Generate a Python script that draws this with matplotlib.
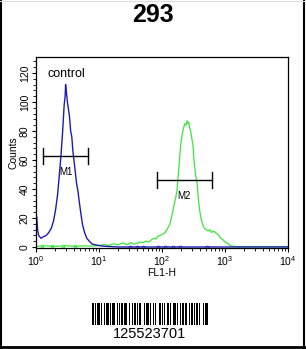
import numpy as np
import matplotlib.pyplot as plt
from matplotlib.ticker import MultipleLocator, LogLocator, NullFormatter

plt.rcParams['font.family'] = ['Liberation Sans', 'DejaVu Sans']

# ---------------- data ----------------
title = "293"
barcode_text = "125523701"

# control (blue) histogram
blue_x = [1.0, 1.02, 1.06, 1.1, 1.2, 1.3, 1.45, 1.6, 1.75, 1.9, 2.05, 2.2, 2.35, 2.5,
          2.65, 2.8, 2.9, 2.95, 3.05, 3.15, 3.25, 3.4, 3.55, 3.7, 3.85, 4.0, 4.2, 4.4,
          4.65, 4.9, 5.2, 5.5, 5.9, 6.4, 7.0, 7.8, 8.8, 10, 12, 15, 20, 10000]
blue_y = [0, 21, 12, 8, 6, 7, 8, 10, 13, 18, 26, 36, 50, 64,
          80, 98, 104, 112, 106, 100, 96, 90, 80, 76, 66, 60, 52, 44,
          38, 30, 22, 15, 10, 6, 4, 2, 1.5, 1, 0.5, 0.3, 0, 0]

# sample (green) histogram
green_x = [1.0, 1.5, 2, 3, 4, 6, 8, 10, 12, 14, 17, 20, 24, 28, 32, 36, 40, 45, 50,
           56, 62, 68, 74, 80, 86, 93, 105, 112, 120, 127, 134, 141, 149, 157, 165,
           173, 180, 187, 193, 200, 210, 220, 230, 240, 250, 258, 266, 275, 285, 295,
           310, 325, 340, 360, 380, 400, 420, 445, 470, 500, 540, 575, 610, 650, 700,
           750, 800, 860, 930, 1000, 1110, 1200, 1340, 1600, 2500, 10000]
green_y = [0.5, 0.8, 0.4, 0.9, 0.5, 0.8, 0.6, 1.0, 1.8, 1.0, 2.2, 1.5, 2.8, 1.6, 3.0, 2.0, 2.5, 3.5, 3.0,
           4.0, 3.5, 5.0, 6.0, 5.5, 7.5, 8, 9, 10, 12, 14, 16, 20, 25, 30, 34,
           39, 48, 57, 65, 72, 78, 82, 85, 84, 87, 85, 86, 82, 80, 76,
           70, 58, 50, 44, 32, 24, 19, 15, 13, 12, 11, 12, 10, 11, 10,
           9, 8, 6, 5, 3.5, 2.5, 1, 0.5, 0.3, 0.3, 0.3]

# baseline markers
blue_marks = [31, 40, 50, 87, 110, 149, 193, 517]
green_marks = [1.25, 1.8, 2.7, 4.1]

# gates
m1_range = (1.29, 6.7)
m1_level = 63
m2_range = (83, 620)
m2_level = 46

# barcode bar/space widths (modules), starting with a bar
barcode_widths = [2, 1, 1, 1, 2, 1, 1, 2, 1, 1, 3, 1, 1, 1, 2, 2, 1, 1, 1, 1, 2, 1, 3, 1,
                  1, 2, 1, 1, 2, 1, 1, 1, 2, 2, 1, 1, 3, 1, 1, 2, 1, 1, 1, 2, 2, 1, 1, 1,
                  1, 2, 2, 1, 1, 1, 3, 1, 1, 2, 1, 1, 2, 1, 1, 2, 1, 1, 2, 1, 1, 1, 2, 1,
                  1, 2, 1, 1, 3]

BLUE = '#1c1cb4'
GREEN = '#3ce63c'

fig = plt.figure(figsize=(3.06, 3.49), dpi=100)

# outer frame
fig.add_artist(plt.Line2D([0.002, 0.002], [0, 1], color='black', lw=1.5))
fig.add_artist(plt.Line2D([0.995, 0.995], [0, 1], color='black', lw=1.5))
fig.add_artist(plt.Line2D([0, 1], [0.006, 0.006], color='black', lw=2))
fig.add_artist(plt.Line2D([0, 1], [0.998, 0.998], color='#dddddd', lw=0.8))

fig.text(0.5, 0.957, title, ha='center', va='center', fontsize=18, fontweight='bold')

ax = fig.add_axes([36/306, 1-248/349, 252/306, 191/349])
ax.plot(green_x, green_y, color=GREEN, lw=0.9)
ax.plot(blue_x, blue_y, color=BLUE, lw=1.0)
ax.plot(green_marks, [0.8]*len(green_marks), 'o', ms=2, mfc='none', mec=GREEN, mew=0.6)
ax.plot(blue_marks, [0.3]*len(blue_marks), 'o', ms=2, mfc='none', mec=BLUE, mew=0.6)

for (lo, hi), lev, lab in [(m1_range, m1_level, 'M1'), (m2_range, m2_level, 'M2')]:
    ax.plot([lo, hi], [lev, lev], color='black', lw=1)
    ax.plot([lo, lo], [lev-5.5, lev+5.5], color='black', lw=1)
    ax.plot([hi, hi], [lev-5.5, lev+5.5], color='black', lw=1)
    ax.text(np.sqrt(lo*hi), lev-11, lab, ha='center', va='center', fontsize=7)

ax.text(1.5, 119, 'control', fontsize=9, va='center', ha='left')

ax.set_xscale('log')
ax.set_xlim(1, 1e4)
ax.set_ylim(-0.7, 131)
ax.xaxis.set_major_locator(LogLocator(base=10, numticks=10))
ax.xaxis.set_minor_locator(LogLocator(base=10, subs=np.arange(2, 10), numticks=10))
ax.xaxis.set_minor_formatter(NullFormatter())
ax.yaxis.set_major_locator(MultipleLocator(20))
ax.yaxis.set_minor_locator(MultipleLocator(4))
ax.tick_params(axis='both', which='major', labelsize=7.5, length=3, width=0.8, pad=1.5)
ax.tick_params(axis='both', which='minor', length=2, width=0.6)
for lab in ax.get_yticklabels():
    lab.set_rotation(90)
    lab.set_va('center')
ax.set_xlabel('FL1-H', fontsize=7.5, labelpad=0)
ax.set_ylabel('Counts', fontsize=7.5, labelpad=1)
for s in ax.spines.values():
    s.set_linewidth(0.9)

# barcode
bax = fig.add_axes([92/306, 1-325/349, 116/306, 22/349])
pos = 0
starts, widths = [], []
for i, w in enumerate(barcode_widths):
    if i % 2 == 0:
        starts.append(pos)
        widths.append(w)
    pos += w
bax.bar(starts, [1]*len(starts), width=widths, align='edge', color='black')
bax.set_xlim(0, pos)
bax.set_ylim(0, 1)
bax.axis('off')
fig.text(150/306, 1-334/349, barcode_text, ha='center', va='center', fontsize=10.5)

fig.savefig('out.png', dpi=100)
